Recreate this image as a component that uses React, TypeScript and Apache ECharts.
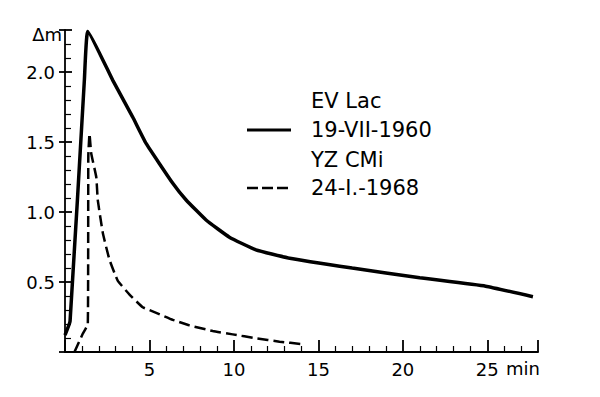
import React, { useEffect, useRef } from "react";
import * as echarts from "echarts";

// EV Lac, 19-VII-1960 (solid)
const evTime = [0, 0.3, 1.15, 1.35, 2.83, 4.0, 4.8, 6.38, 7.17, 8.35, 9.73, 11.3, 13.3, 17.0, 21.0, 24.9, 27.7];
const evMag = [0.12, 0.22, 1.95, 2.29, 1.94, 1.68, 1.49, 1.205, 1.086, 0.943, 0.82, 0.73, 0.67, 0.6, 0.53, 0.47, 0.395];

// YZ CMi, 24-I.-1968 (dashed)
const yzTime = [0.56, 1.05, 1.35, 1.38, 1.45, 1.55, 1.85, 1.94, 2.24, 2.63, 3.12, 3.82, 4.6, 5.4, 6.38, 7.37, 8.75, 9.93, 11.3, 12.7, 14.0];
const yzMag = [0.0, 0.13, 0.2, 1.4, 1.56, 1.42, 1.25, 1.086, 0.85, 0.66, 0.51, 0.41, 0.32, 0.28, 0.23, 0.19, 0.15, 0.126, 0.098, 0.074, 0.057];

const xTickLabels = [5, 10, 15, 20, 25];
const yTickLabels = [0.5, 1.0, 1.5, 2.0];
const legendNames = ["EV Lac", "19-VII-1960", "YZ CMi", "24-I.-1968"];

const FONT = "DejaVu Sans";

export default function App() {
  const ref = useRef<HTMLDivElement>(null);
  useEffect(() => {
    if (!ref.current) return;
    const chart = echarts.init(ref.current, null, { renderer: "svg" });
    const evData = evTime.map((t, i) => [t, evMag[i]]);
    const yzData = yzTime.map((t, i) => [t, yzMag[i]]);
    const yBase = {
      type: "value",
      min: 0,
      max: 2.3,
      interval: 0.5,
      splitLine: { show: false },
    };
    chart.setOption({
      animation: false,
      backgroundColor: "#ffffff",
      grid: { left: 65, right: 62, top: 30, bottom: 45 },
      xAxis: {
        type: "value",
        min: 0,
        max: 28,
        interval: 5,
        axisLine: { lineStyle: { color: "#000", width: 2 } },
        axisTick: { show: true, inside: true, length: 12, lineStyle: { color: "#000", width: 1.8 } },
        minorTick: { show: true, splitNumber: 5, length: 6, lineStyle: { color: "#000", width: 1.2 } },
        splitLine: { show: false },
        axisLabel: {
          color: "#000",
          fontFamily: FONT,
          fontSize: 18,
          margin: 8,
          formatter: (v: number) => (xTickLabels.includes(v) ? String(v) : ""),
        },
      },
      yAxis: [
        {
          ...yBase,
          axisLine: { lineStyle: { color: "#000", width: 1.8 } },
          axisTick: { show: true, inside: true, length: 7, lineStyle: { color: "#000", width: 1.8 } },
          minorTick: { show: true, splitNumber: 5, length: 6, lineStyle: { color: "#000", width: 1.2 } },
          axisLabel: {
            color: "#000",
            fontFamily: FONT,
            fontSize: 18,
            margin: 10,
            formatter: (v: number) => {
              const r = Math.round(v * 10) / 10;
              return yTickLabels.includes(r) && Math.abs(v - r) < 1e-6 ? r.toFixed(1) : "";
            },
          },
        },
        {
          ...yBase,
          position: "left",
          axisLine: { show: false },
          axisTick: { show: true, inside: false, length: 6, lineStyle: { color: "#000", width: 1.8 } },
          axisLabel: { show: false },
        },
      ],
      graphic: [
        {
          type: "text",
          x: 62,
          y: 34,
          style: { text: "Δm", font: `18px "${FONT}"`, fill: "#000", align: "right", verticalAlign: "middle" },
        },
        {
          type: "text",
          x: 506,
          y: 368,
          style: { text: "min", font: `18px "${FONT}"`, fill: "#000", align: "left", verticalAlign: "middle" },
        },
        {
          type: "line",
          shape: { x1: 247, y1: 130, x2: 291, y2: 130 },
          style: { stroke: "#000", lineWidth: 3 },
        },
        {
          type: "line",
          shape: { x1: 247, y1: 188, x2: 291, y2: 188 },
          style: { stroke: "#000", lineWidth: 2.5, lineDash: [11, 4] },
        },
        ...legendNames.map((name, i) => ({
          type: "text",
          x: 311,
          y: [101, 130, 160, 188][i],
          style: { text: name, font: `21px "${FONT}"`, fill: "#000", align: "left", verticalAlign: "middle" },
        })),
      ],
      series: [
        {
          type: "line",
          name: "EV Lac 19-VII-1960",
          data: evData,
          showSymbol: false,
          symbol: "none",
          smooth: 0.12,
          lineStyle: { color: "#000", width: 3.5 },
        },
        {
          type: "line",
          name: "YZ CMi 24-I.-1968",
          data: yzData,
          showSymbol: false,
          symbol: "none",
          smooth: 0.12,
          lineStyle: { color: "#000", width: 2.5, type: [11, 5] },
        },
      ],
    });
    return () => chart.dispose();
  }, []);
  return (
    <div
      ref={ref}
      style={{ position: "absolute", left: 0, top: 0, width: 600, height: 397, background: "#fff" }}
    />
  );
}
